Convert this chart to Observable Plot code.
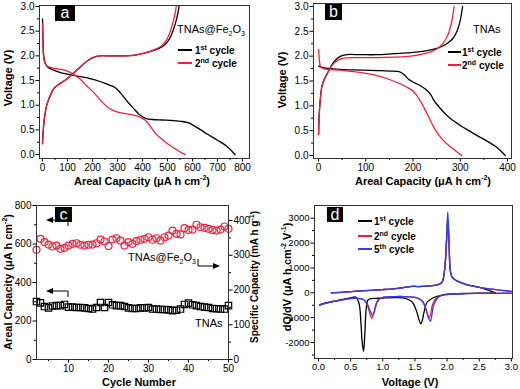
<!DOCTYPE html>
<html><head><meta charset="utf-8">
<script src="https://cdn.jsdelivr.net/npm/d3@7"></script>
<script src="https://cdn.jsdelivr.net/npm/@observablehq/plot@0.6"></script>
<style>
body{margin:0;background:#fff;}
#fig{position:relative;width:520px;height:389px;overflow:hidden;font-family:"Liberation Sans",Arial,sans-serif;background:#fff;color:#000}
.abs{position:absolute;white-space:nowrap;line-height:1}
.tag{position:absolute;background:#000;color:#fff;text-align:center;font-family:"Liberation Sans",Arial,sans-serif}
sup,sub{font-size:7px;line-height:0}
</style></head><body><div id="fig"></div>
<script>
// ---------- Panel a: TNAs@Fe2O3 charge/discharge ----------
const a1DisCap = [0,1,2,4,8,14,22,35,55,80,110,150,190,230,260,290,320,340,365,390,415,440,480,520,560,585,604,630,657,700,737,770];
const a1DisV   = [2.75,2.55,2.3,2.05,1.9,1.82,1.77,1.73,1.69,1.65,1.62,1.58,1.54,1.48,1.42,1.36,1.2,1.07,0.93,0.8,0.73,0.71,0.70,0.69,0.67,0.64,0.59,0.51,0.42,0.29,0.17,0.0];
const a2DisCap = [0,1,2,4,8,14,22,35,55,80,100,125,150,175,204,230,258,280,300,330,364,390,410,430,450,475,500,530,555,571];
const a2DisV   = [2.65,2.45,2.2,2.0,1.88,1.81,1.78,1.76,1.74,1.72,1.69,1.62,1.53,1.40,1.26,1.11,0.97,0.9,0.86,0.83,0.80,0.76,0.70,0.58,0.44,0.32,0.22,0.12,0.04,0.0];
const a1ChCap  = [0,2,4,8,12,17,25,35,44,60,80,97,120,150,180,204,231,270,320,364,402,434,466,488,506,520,535,541,546];
const a1ChV    = [0.22,0.42,0.56,0.75,0.88,1.0,1.12,1.24,1.33,1.4,1.47,1.53,1.63,1.77,1.9,1.97,2.0,2.0,2.0,2.01,2.05,2.09,2.15,2.22,2.33,2.48,2.72,2.85,3.0];
const a2ChCap  = [0,2,4,8,12,17,25,35,44,60,80,97,120,150,180,204,231,270,320,364,400,430,460,480,497,510,524,530,535];
const a2ChV    = [0.22,0.42,0.56,0.75,0.88,1.0,1.12,1.24,1.33,1.4,1.47,1.53,1.63,1.77,1.9,1.97,2.0,2.0,2.0,2.01,2.05,2.09,2.15,2.22,2.33,2.48,2.72,2.85,3.0];

// ---------- Panel b: TNAs ----------
const b1DisCap = [0,10,25,53,90,124,150,173,182,190,200,209,220,230,238,244,255,265,280,301,320,336,355,372,385,395];
const b1DisV   = [1.80,1.77,1.75,1.73,1.72,1.71,1.70,1.68,1.62,1.54,1.48,1.44,1.38,1.31,1.22,1.11,0.98,0.87,0.74,0.60,0.49,0.40,0.30,0.20,0.10,0.0];
const b2DisCap = [0,1,2,4,8,15,25,53,90,124,150,173,190,202,212,223,230,237,247,258,270,280,292,303];
const b2DisV   = [2.13,2.02,1.9,1.8,1.76,1.74,1.73,1.71,1.67,1.61,1.53,1.44,1.36,1.28,1.15,0.97,0.84,0.70,0.52,0.37,0.25,0.17,0.08,0.0];
const b1ChCap  = [0,1,2,4,7,12,18,25,32,45,60,88,124,159,195,230,255,273,285,294,300,305];
const b1ChV    = [0.42,0.7,0.91,1.15,1.38,1.53,1.64,1.77,1.88,1.99,2.03,2.03,2.03,2.05,2.07,2.11,2.17,2.26,2.36,2.52,2.72,3.0];
const b2ChCap  = [0,1,2,4,7,12,18,25,32,42,53,90,124,160,195,220,244,258,268,275,280,284,287];
const b2ChV    = [0.42,0.7,0.91,1.15,1.38,1.53,1.64,1.76,1.85,1.92,1.96,1.97,1.97,1.98,2.0,2.04,2.11,2.2,2.32,2.45,2.62,2.8,3.0];

// ---------- Panel c: cycling ----------
const cycles = [2,3,4,5,6,7,8,9,10,11,12,13,14,15,16,17,18,19,20,21,22,23,24,25,26,27,28,29,30,31,32,33,34,35,36,37,38,39,40,41,42,43,44,45,46,47,48,49,50];
const fe2o3Areal = [570,627,610,597,587,592,575,580,592,601,604,596,592,596,597,604,623,613,589,623,630,618,592,610,601,615,622,627,635,622,630,618,635,644,670,653,650,682,673,675,700,687,684,679,673,670,675,691,679];
const tnasAreal  = [301,294,275,268,278,280,280,286,272,272,270,270,268,265,262,270,296,270,296,284,280,280,275,268,265,265,268,268,270,262,262,260,260,258,254,256,262,286,293,284,280,275,272,270,265,264,262,262,280];
const specPerAreal = 400 / 722; // right axis: mA h g^-1 per µA h cm^-2

// ---------- Panel d: dQ/dV ----------
const dBlkDisV = [0.02,0.1,0.2,0.3,0.4,0.5,0.58,0.63,0.66,0.68,0.70,0.72,0.74,0.77,0.82,0.9,1.0,1.2,1.35,1.45,1.52,1.56,1.59,1.61,1.64,1.68,1.75,1.85,1.95,2.1,2.3,2.5,2.75];
const dBlkDisQ = [-480,-420,-360,-300,-250,-200,-170,-420,-1200,-2000,-2350,-1700,-700,-290,-230,-220,-210,-190,-220,-350,-700,-1050,-1250,-1150,-800,-420,-250,-140,-70,-40,-25,-15,-5];
const dRedDisV = [0.02,0.1,0.2,0.3,0.4,0.5,0.6,0.7,0.76,0.8,0.83,0.86,0.9,0.95,1.0,1.2,1.4,1.55,1.62,1.67,1.70,1.72,1.74,1.77,1.82,1.9,2.0,2.2,2.5,3.0];
const dRedDisQ = [-500,-430,-370,-320,-270,-230,-220,-280,-500,-850,-1030,-800,-400,-230,-180,-150,-160,-220,-350,-650,-900,-1020,-900,-500,-250,-120,-70,-40,-25,-15];
const dBluDisV = [0.02,0.1,0.2,0.3,0.4,0.5,0.6,0.7,0.76,0.8,0.84,0.87,0.91,0.96,1.0,1.2,1.4,1.55,1.62,1.67,1.71,1.74,1.76,1.79,1.84,1.9,2.0,2.2,2.5,3.0];
const dBluDisQ = [-500,-430,-370,-320,-270,-230,-220,-270,-450,-700,-900,-750,-400,-230,-180,-150,-160,-220,-350,-650,-1000,-1150,-950,-500,-250,-120,-70,-40,-25,-15];
const dBlkChV = [0.2,0.4,0.6,0.8,1.0,1.2,1.35,1.45,1.55,1.7,1.85,1.92,1.96,1.99,2.01,2.03,2.05,2.08,2.15,2.3,2.5,2.75];
const dBlkChQ = [0,30,70,100,130,170,220,260,250,270,320,420,900,2000,2950,2000,900,620,480,330,220,0];
const dRedChV = [0.2,0.4,0.6,0.8,1.0,1.2,1.35,1.45,1.55,1.7,1.85,1.92,1.96,1.99,2.01,2.03,2.05,2.08,2.15,2.3,2.5,2.75,3.0];
const dRedChQ = [0,30,70,100,130,170,220,260,250,270,320,420,900,2000,2850,2000,900,620,480,330,220,130,60];
const dBluChV = [0.2,0.4,0.6,0.8,1.0,1.2,1.35,1.45,1.55,1.7,1.85,1.92,1.96,1.99,2.01,2.03,2.05,2.08,2.15,2.3,2.5,2.75,3.0];
const dBluChQ = [0,30,70,100,130,170,220,260,250,270,320,420,900,2100,3250,2100,900,620,480,330,220,130,60];

// ---------- tick labels ----------
const capTicksA = [0,100,200,300,400,500,600,700,800], capMinorA = [50,150,250,350,450,550,650,750];
const capTicksB = [0,100,200,300,400], capMinorB = [50,150,250,350];
const voltTicks = [0,0.5,1.0,1.5,2.0,2.5,3.0], voltMinor = [0.25,0.75,1.25,1.75,2.25,2.75];
const cycleTicks = [10,20,30,40,50], cycleMinor = [5,15,25,35,45];
const arealTicks = [0,200,400,600,800], arealMinor = [100,300,500,700];
const specTicks = [0,100,200,300,400], specMinor = [50,150,250,350];
const dqTicks = [-2000,-1000,0,1000,2000,3000], dqMinor = [-2500,-1500,-500,500,1500,2500];

const RED = "#f2203e", BLUE = "#2e3ff0", BLK = "#000";
const FONT = "'Liberation Sans', Arial, sans-serif";
const fig = document.getElementById("fig");
const rows = (xs, ys) => xs.map((x, i) => ({x, y: ys[i]}));
const f1 = d => d.toFixed(1);
const fi = d => String(d);

function panel(cfg) {
  const fs = cfg.fs || 10;
  const axes = [
    Plot.axisX({ticks: cfg.xMajor, tickSize: 3.5, tickPadding: 1.5, tickFormat: cfg.xFmt, label: null, fontSize: fs}),
    Plot.axisX({ticks: cfg.xMinor, tickSize: 2, tickFormat: () => "", label: null}),
    Plot.axisY({ticks: cfg.yMajor, tickSize: 3.5, tickPadding: 1.5, tickFormat: cfg.yFmt, label: null, fontSize: fs}),
    Plot.axisY({ticks: cfg.yMinor, tickSize: 2, tickFormat: () => "", label: null})
  ];
  const svg = Plot.plot({
    width: cfg.width, height: cfg.height,
    marginTop: cfg.mt, marginRight: cfg.mr, marginBottom: cfg.mb, marginLeft: cfg.ml,
    style: {fontFamily: FONT, fontSize: fs + "px", background: "transparent", color: "#000", overflow: "visible"},
    x: {domain: cfg.xDomain}, y: {domain: cfg.yDomain},
    marks: [...cfg.marks, ...axes, ...(cfg.extraAxes || []), Plot.frame({stroke: "#333"})]
  });
  Object.assign(svg.style, {position: "absolute", left: cfg.left + "px", top: cfg.top + "px"});
  fig.appendChild(svg);
}
const line = (xs, ys, c) => Plot.line(rows(xs, ys), {x: "x", y: "y", stroke: c, strokeWidth: 1.3, curve: "catmull-rom"});

// Panel a
panel({left: 0, top: 0, width: 260, height: 195, mt: 5, mr: 11, mb: 37, ml: 39,
  xDomain: [-12, 828], yDomain: [-0.08, 3.02],
  xMajor: capTicksA, xMinor: capMinorA, yMajor: voltTicks, yMinor: voltMinor, xFmt: fi, yFmt: f1,
  marks: [line(a1DisCap, a1DisV, BLK), line(a1ChCap, a1ChV, BLK), line(a2DisCap, a2DisV, RED), line(a2ChCap, a2ChV, RED)]});

// Panel b
panel({left: 260, top: 0, width: 260, height: 195, mt: 3, mr: 9, mb: 37, ml: 53,
  xDomain: [-10.6, 408.5], yDomain: [-0.06, 3.06],
  xMajor: capTicksB, xMinor: capMinorB, yMajor: voltTicks, yMinor: voltMinor, xFmt: fi, yFmt: f1,
  marks: [line(b1DisCap, b1DisV, BLK), line(b1ChCap, b1ChV, BLK), line(b2DisCap, b2DisV, RED), line(b2ChCap, b2ChV, RED)]});

// Panel c
panel({left: 0, top: 195, width: 260, height: 194, mt: 10, mr: 32, mb: 30, ml: 36,
  xDomain: [2, 50], yDomain: [0, 800],
  xMajor: cycleTicks, xMinor: cycleMinor, yMajor: arealTicks, yMinor: arealMinor, xFmt: fi, yFmt: fi,
  marks: [
    Plot.dot(cycles.map((c, i) => ({c, v: tnasAreal[i]})), {x: "c", y: "v", symbol: "square", r: 3.6, stroke: BLK, strokeWidth: 1.2, fill: "none"}),
    Plot.dot(cycles.map((c, i) => ({c, v: fe2o3Areal[i]})), {x: "c", y: "v", symbol: "circle", r: 3.5, stroke: RED, strokeWidth: 1.2, fill: "none"})
  ],
  extraAxes: [
    Plot.axisY({anchor: "right", ticks: specTicks.map(v => v / specPerAreal), tickSize: 3.5, tickPadding: 1.5, tickFormat: d => String(Math.round(d * specPerAreal)), label: null, fontSize: 10}),
    Plot.axisY({anchor: "right", ticks: specMinor.map(v => v / specPerAreal), tickSize: 2, tickFormat: () => "", label: null})
  ]});

// Panel d
panel({left: 260, top: 195, width: 260, height: 194, mt: 10, mr: 8, mb: 31, ml: 54, fs: 9.5,
  xDomain: [-0.062, 3.017], yDomain: [-2642, 3511],
  xMajor: voltTicks, xMinor: voltMinor, yMajor: dqTicks, yMinor: dqMinor, xFmt: f1, yFmt: fi,
  marks: [line(dBlkChV, dBlkChQ, BLK), line(dBlkDisV, dBlkDisQ, BLK),
          line(dRedChV, dRedChQ, RED), line(dRedDisV, dRedDisQ, RED),
          line(dBluChV, dBluChQ, BLUE), line(dBluDisV, dBluDisQ, BLUE)]});

// ---------- overlay text ----------
function txt(html, x, y, {size = 11, weight = "bold", anchor = "start", rotate = false} = {}) {
  const d = document.createElement("div");
  d.className = "abs"; d.innerHTML = html;
  Object.assign(d.style, {left: x + "px", top: y + "px", fontSize: size + "px", fontWeight: weight});
  let t = anchor === "middle" ? "translate(-50%,-50%)" : "translate(0,-50%)";
  if (rotate) t += " rotate(-90deg)";
  d.style.transform = t;
  fig.appendChild(d);
}
function seg(x, y, w, c) {
  const d = document.createElement("div");
  Object.assign(d.style, {position: "absolute", left: x + "px", top: (y - 1) + "px", width: w + "px", height: "1.6px", background: c});
  fig.appendChild(d);
}
function tag(letter, x, y, w, h) {
  const d = document.createElement("div");
  d.className = "tag"; d.textContent = letter;
  Object.assign(d.style, {left: x + "px", top: y + "px", width: w + "px", height: h + "px", fontSize: "16px", lineHeight: h + "px"});
  fig.appendChild(d);
}
// axis titles
txt("Voltage (V)", 8, 78, {anchor: "middle", rotate: true});
txt("Areal Capacity (μA h cm<sup>-2</sup>)", 142, 181, {anchor: "middle"});
txt("Voltage (V)", 282, 80, {anchor: "middle", rotate: true});
txt("Areal Capacity (μA h cm<sup>-2</sup>)", 423, 181, {anchor: "middle"});
txt("Areal Capacity (μA h cm<sup>-2</sup>)", 8, 282, {anchor: "middle", rotate: true});
txt("Cycle Number", 139, 382, {anchor: "middle"});
txt("dQ/dV (μA h cm<sup>-2</sup> V<sup>-1</sup>)", 287, 277, {anchor: "middle", rotate: true});
txt("Voltage (V)", 410, 382, {anchor: "middle"});
// right axis title of panel c
txt("Specific Capacity (mA h g<sup>-1</sup>)", 255, 277, {anchor: "middle", rotate: true, size: 10});

// legends
txt("TNAs@Fe<sub>2</sub>O<sub>3</sub>", 177, 29, {size: 11, weight: "normal"});
seg(178, 50, 14, BLK); txt("1<sup>st</sup> cycle", 195, 51, {size: 10});
seg(178, 63, 14, RED); txt("2<sup>nd</sup> cycle", 195, 64, {size: 10});
txt("TNAs", 473, 29, {size: 11, weight: "normal"});
seg(448, 52, 13, BLK); txt("1<sup>st</sup> cycle", 462, 53, {size: 10});
seg(448, 65, 13, RED); txt("2<sup>nd</sup> cycle", 462, 66, {size: 10});
txt("TNAs@Fe<sub>2</sub>O<sub>3</sub>", 128, 257, {size: 11, weight: "normal"});
txt("TNAs", 195, 323, {size: 11, weight: "normal"});
seg(358, 221, 14, BLK); txt("1<sup>st</sup> cycle", 374, 222, {size: 10});
seg(358, 236, 14, RED); txt("2<sup>nd</sup> cycle", 374, 237, {size: 10});
seg(358, 249, 14, BLUE); txt("5<sup>th</sup> cycle", 374, 250, {size: 10});
// panel tags
tag("a", 55, 5, 20, 16); tag("b", 325, 4, 17, 16); tag("c", 55, 207, 17, 15); tag("d", 327, 207, 16, 15);
// arrows in panel c
const ns = "http://www.w3.org/2000/svg";
const arr = document.createElementNS(ns, "svg");
arr.setAttribute("width", 520); arr.setAttribute("height", 389);
Object.assign(arr.style, {position: "absolute", left: 0, top: 0, pointerEvents: "none"});
arr.innerHTML = `
<path d="M51,220H68V226" fill="none" stroke="#000" stroke-width="1"/><path d="M46,220L53,217L53,223Z" fill="#000"/>
<path d="M51,291H68V297" fill="none" stroke="#000" stroke-width="1"/><path d="M46,291L53,288L53,294Z" fill="#000"/>
<path d="M198,259V266H215" fill="none" stroke="#000" stroke-width="1"/><path d="M220,266L213,263L213,269Z" fill="#000"/>`;
fig.appendChild(arr);
</script></body></html>
